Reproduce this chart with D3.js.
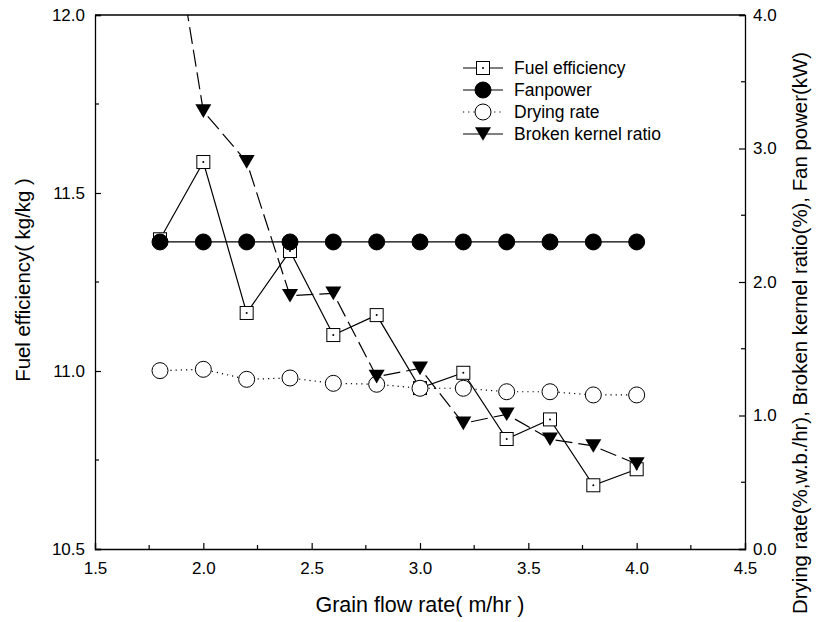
<!DOCTYPE html>
<html>
<head>
<meta charset="utf-8">
<script src="https://cdn.jsdelivr.net/npm/d3@7"></script>
<style>
  html, body { margin: 0; padding: 0; background: #fff; }
  svg { display: block; }
  text { font-family: "Liberation Sans", Arial, sans-serif; fill: #000; }
</style>
</head>
<body>
<svg id="chart" width="817" height="622"></svg>
<script>
// Grain flow rate (m/hr)
const flowRate = [1.8, 2.0, 2.2, 2.4, 2.6, 2.8, 3.0, 3.2, 3.4, 3.6, 3.8, 4.0];
// Fuel efficiency (kg/kg), left axis
const fuelEfficiency = [11.37, 11.587, 11.163, 11.337, 11.101, 11.157, 10.952, 10.995, 10.809, 10.864, 10.679, 10.724];
// Fan power (kW), right axis
const fanPower = [2.30, 2.30, 2.30, 2.30, 2.30, 2.30, 2.30, 2.30, 2.30, 2.30, 2.30, 2.30];
// Drying rate (%, w.b./hr), right axis
const dryingRate = [1.336, 1.346, 1.271, 1.281, 1.241, 1.234, 1.204, 1.204, 1.178, 1.178, 1.154, 1.154];
// Broken kernel ratio (%), right axis
const brokenKernel = [5.27, 3.28, 2.90, 1.897, 1.915, 1.291, 1.353, 0.941, 1.009, 0.822, 0.772, 0.637];

const xTicks = [1.5, 2.0, 2.5, 3.0, 3.5, 4.0, 4.5];
const yLeftTicks = [10.5, 11.0, 11.5, 12.0];
const yRightTicks = [0.0, 1.0, 2.0, 3.0, 4.0];
const legendLabels = ["Fuel efficiency", "Fanpower", "Drying rate", "Broken kernel ratio"];

const svg = d3.select("#chart");
const m = { left: 95, right: 745, top: 15, bottom: 549 };

const x = d3.scaleLinear().domain([1.5, 4.5]).range([m.left, m.right]);
const yL = d3.scaleLinear().domain([10.5, 12.0]).range([m.bottom, m.top]);
const yR = d3.scaleLinear().domain([0, 4]).range([m.bottom, m.top]);

const FS = 17;

// clip region for the plot area
svg.append("defs").append("clipPath").attr("id", "plotClip")
  .append("rect").attr("x", m.left).attr("y", m.top)
  .attr("width", m.right - m.left).attr("height", m.bottom - m.top);

// frame: top border line
svg.append("line").attr("x1", m.left).attr("x2", m.right).attr("y1", m.top).attr("y2", m.top)
  .attr("stroke", "#000").attr("stroke-width", 1.3);

// bottom axis (ticks point inward)
const minorX = d3.range(1.75, 4.5, 0.5);
const gx = svg.append("g").attr("transform", `translate(0,${m.bottom})`)
  .call(d3.axisBottom(x).tickValues(xTicks).tickSize(-6).tickPadding(12).tickFormat(d3.format(".1f")));
gx.selectAll(".tick text").attr("font-size", FS).attr("dy", "0.71em").attr("y", 13);
gx.selectAll("line").attr("stroke-width", 1.2);
gx.select(".domain").attr("stroke-width", 1.3);
gx.selectAll(".minor").data(minorX).enter().append("line").attr("class", "minor")
  .attr("x1", d => x(d)).attr("x2", d => x(d)).attr("y1", 0).attr("y2", -4)
  .attr("stroke", "#000").attr("stroke-width", 1.2);

// left axis
const gl = svg.append("g").attr("transform", `translate(${m.left},0)`)
  .call(d3.axisLeft(yL).tickValues(yLeftTicks).tickSize(-6).tickPadding(10).tickFormat(d3.format(".1f")));
gl.selectAll(".tick text").attr("font-size", FS).attr("x", -10);
gl.selectAll("line").attr("stroke-width", 1.2);
gl.select(".domain").attr("stroke-width", 1.3);
gl.selectAll(".minor").data([10.75, 11.25, 11.75]).enter().append("line").attr("class", "minor")
  .attr("x1", 0).attr("x2", 4).attr("y1", d => yL(d)).attr("y2", d => yL(d))
  .attr("stroke", "#000").attr("stroke-width", 1.2);

// right axis
const gr = svg.append("g").attr("transform", `translate(${m.right},0)`)
  .call(d3.axisRight(yR).tickValues(yRightTicks).tickSize(-6).tickFormat(d3.format(".1f")));
gr.selectAll(".tick text").attr("font-size", FS).attr("x", 8);
gr.selectAll("line").attr("stroke-width", 1.2);
gr.select(".domain").attr("stroke-width", 1.3);
gr.selectAll(".minor").data([0.5, 1.5, 2.5, 3.5]).enter().append("line").attr("class", "minor")
  .attr("x1", 0).attr("x2", -4).attr("y1", d => yR(d)).attr("y2", d => yR(d))
  .attr("stroke", "#000").attr("stroke-width", 1.2);

svg.selectAll(".domain").attr("stroke", "#000");
svg.selectAll(".tick line").attr("stroke", "#000");

// axis titles
svg.append("text").attr("x", 420).attr("y", 612)
  .attr("text-anchor", "middle").attr("font-size", 21.5).text("Grain flow rate( m/hr )");
svg.append("text").attr("transform", `translate(30,280) rotate(-90)`)
  .attr("text-anchor", "middle").attr("font-size", 20.4).text("Fuel efficiency( kg/kg )");
svg.append("text").attr("transform", `translate(807,333) rotate(-90)`)
  .attr("text-anchor", "middle").attr("font-size", 20.4)
  .text("Drying rate(%,w.b./hr), Broken kernel ratio(%), Fan power(kW)");

// marker drawing helpers
const SQ = 13, CR = 8, TR = 8;
function square(g, cx, cy) {
  g.append("rect").attr("x", cx - SQ / 2).attr("y", cy - SQ / 2).attr("width", SQ).attr("height", SQ)
    .attr("fill", "#fff").attr("stroke", "#000").attr("stroke-width", 1);
  g.append("circle").attr("cx", cx).attr("cy", cy).attr("r", 1).attr("fill", "#000");
}
function circle(g, cx, cy, filled) {
  g.append("circle").attr("cx", cx).attr("cy", cy).attr("r", CR)
    .attr("fill", filled ? "#000" : "#fff").attr("stroke", "#000").attr("stroke-width", 1);
}
function triangle(g, cx, cy) {
  const h = TR * 1.7;
  g.append("path")
    .attr("d", `M${cx - TR},${cy - h / 2}L${cx + TR},${cy - h / 2}L${cx},${cy + h / 2}Z`)
    .attr("fill", "#000");
}

const plot = svg.append("g").attr("clip-path", "url(#plotClip)");

const series = [
  { vals: fuelEfficiency, y: yL, dash: null, marker: (g, a, b) => square(g, a, b) },
  { vals: fanPower, y: yR, dash: null, marker: (g, a, b) => circle(g, a, b, true) },
  { vals: dryingRate, y: yR, dash: "1.2,4", marker: (g, a, b) => circle(g, a, b, false) },
  { vals: brokenKernel, y: yR, dash: "17,6", marker: (g, a, b) => triangle(g, a, b) }
];

series.forEach(s => {
  const pts = flowRate.map((d, i) => [x(d), s.y(s.vals[i])]);
  plot.append("path").attr("d", d3.line()(pts)).attr("fill", "none")
    .attr("stroke", "#000").attr("stroke-width", 1.2)
    .attr("stroke-dasharray", s.dash);
  const mg = plot.append("g");
  pts.forEach(p => s.marker(mg, p[0], p[1]));
});

// legend
const lg = svg.append("g");
const legY = [68, 90, 112, 134];
series.forEach((s, i) => {
  const yy = legY[i];
  lg.append("line").attr("x1", 463).attr("x2", 503).attr("y1", yy).attr("y2", yy)
    .attr("stroke", "#000").attr("stroke-width", 1.2).attr("stroke-dasharray", i === 2 ? "1.2,4" : null);
  s.marker(lg, 483, yy);
  lg.append("text").attr("x", 514).attr("y", yy + 6).attr("font-size", 17.5).text(legendLabels[i]);
});
</script>
</body>
</html>
